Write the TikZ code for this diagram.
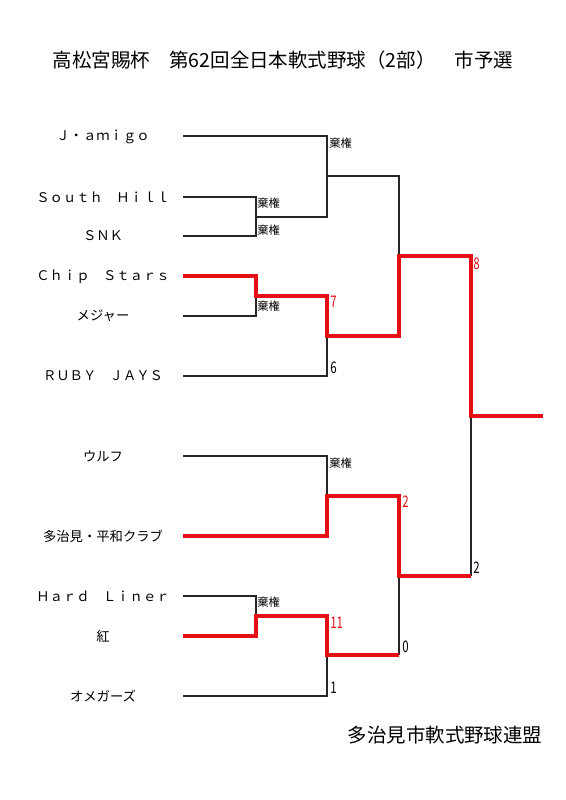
\documentclass[tikz,border=0pt]{standalone}
\usepackage{fontspec}
\setmainfont{Noto Sans CJK JP}
\usepackage{graphicx}
\usepackage{tikz}
\usetikzlibrary{positioning}

\definecolor{winred}{RGB}{228,16,22}
\newcommand{\narrownum}[1]{\scalebox{0.72}[1]{#1}}

\begin{document}
\begin{tikzpicture}[
  x=0.75pt, y=-0.75pt,
  team/.style={font=\fontsize{10}{11}\selectfont, inner sep=0pt},
  heading/.style={font=\fontsize{14.6}{16}\selectfont, inner sep=0pt},
  kiken/.style={font=\fontsize{8.5}{9}\selectfont, inner sep=0pt, anchor=west},
  score/.style={font=\fontsize{12}{13}\selectfont, inner sep=0pt, anchor=west},
  loseline/.style={draw=black!85, line width=1pt},
  winline/.style={draw=winred, line width=2.3pt}
]
\useasboundingbox (0,0) rectangle (565,800);

\node[heading] (title) at (283,60) {高松宮賜杯　第62回全日本軟式野球（2部）　市予選};
\node[heading] (league) at (445,735) {多治見市軟式野球連盟};

% teams
\node[team] (jamigo) at (103,137) {Ｊ・ａｍｉｇｏ};
\node[team] (south) at (103,197) {Ｓｏｕｔｈ　Ｈｉｌｌ};
\node[team] (snk) at (103,236) {ＳＮＫ};
\node[team] (chip) at (103,277) {Ｃｈｉｐ　Ｓｔａｒｓ};
\node[team] (major) at (103,316) {メジャー};
\node[team] (ruby) at (103,376) {ＲＵＢＹ　ＪＡＹＳ};
\node[team] (wolf) at (103,456) {ウルフ};
\node[team] (tajimi) at (103,536) {多治見・平和クラブ};
\node[team] (hard) at (103,596) {Ｈａｒｄ　Ｌｉｎｅｒ};
\node[team] (beni) at (103,636) {紅};
\node[team] (omega) at (103,696) {オメガーズ};

\coordinate (jamigo-e) at (183,136);
\coordinate (south-e) at (183,197);
\coordinate (snk-e) at (183,236);
\coordinate (chip-e) at (183,276);
\coordinate (major-e) at (183,316);
\coordinate (ruby-e) at (183,376);
\coordinate (wolf-e) at (183,456);
\coordinate (tajimi-e) at (183,536);
\coordinate (hard-e) at (183,596);
\coordinate (beni-e) at (183,636);
\coordinate (omega-e) at (183,696);

% match points
\coordinate (m1) at (256,217);
\coordinate (m2) at (256,296);
\coordinate (m3) at (256,616);
\coordinate (m4) at (327,176);
\coordinate (m5) at (327,336);
\coordinate (m6) at (327,496);
\coordinate (m7) at (327,655);
\coordinate (s1) at (399,256);
\coordinate (s2) at (399,576);
\coordinate (fin) at (471,416);
\coordinate (champ) at (543,416);

% losing lines
\draw[loseline] (jamigo-e) -| (m4);
\draw[loseline] (south-e) -| (m1);
\draw[loseline] (snk-e) -| (m1);
\draw[loseline] (m1) -| (m4);
\draw[loseline] (m4) -| (s1);
\draw[loseline] (major-e) -| (m2);
\draw[loseline] (ruby-e) -| (m5);
\draw[loseline] (wolf-e) -| (m6);
\draw[loseline] (hard-e) -| (m3);
\draw[loseline] (omega-e) -| (m7);
\draw[loseline] (m7 -| s2) -- (s2);
\draw[loseline] (s2 -| fin) -- (fin);

% winning lines
\draw[winline] (chip-e) -| (m2) -| (m5) -| (s1) -| (fin) -- (champ);
\draw[winline] (tajimi-e) -| (m6) -| (s2) -- (s2 -| fin);
\draw[winline] (beni-e) -| (m3) -| (m7) -- (m7 -| s2);

% forfeits
\node[kiken] (k1) at (329,143) {棄権};
\node[kiken] (k2) at (257,203) {棄権};
\node[kiken] (k3) at (257,230) {棄権};
\node[kiken] (k4) at (257,306) {棄権};
\node[kiken] (k5) at (329,463) {棄権};
\node[kiken] (k6) at (257,602) {棄権};

% scores
\node[score, text=winred] (sc1) at (330,302) {\narrownum{7}};
\node[score] (sc2) at (330,368) {\narrownum{6}};
\node[score, text=winred] (sc3) at (402,502) {\narrownum{2}};
\node[score] (sc4) at (402,647) {\narrownum{0}};
\node[score, text=winred] (sc5) at (330,623) {\narrownum{11}};
\node[score] (sc6) at (330,688) {\narrownum{1}};
\node[score, text=winred] (sc7) at (473,264) {\narrownum{8}};
\node[score] (sc8) at (473,568) {\narrownum{2}};

\end{tikzpicture}
\end{document}
